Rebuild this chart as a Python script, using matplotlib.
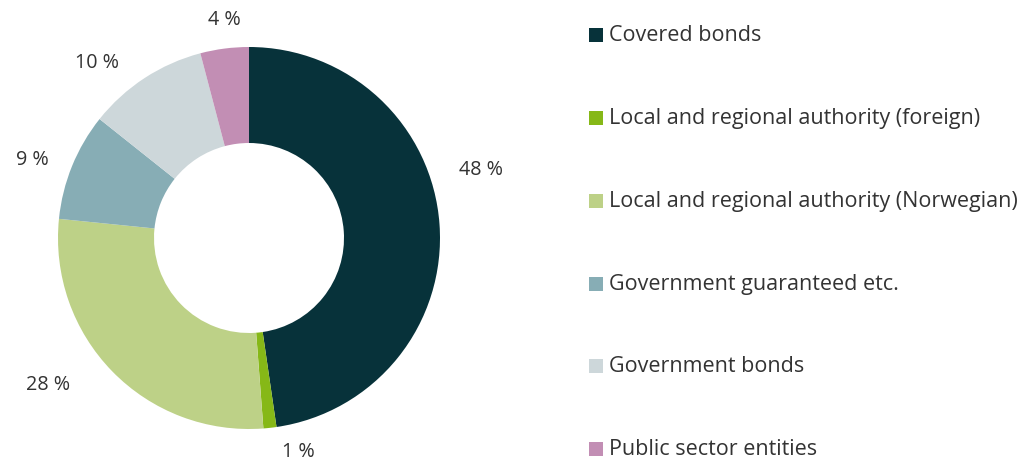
import numpy as np
import matplotlib
matplotlib.use("Agg")
import matplotlib.pyplot as plt
from matplotlib.patches import Rectangle

plt.rcParams['font.family'] = ['Open Sans', 'DejaVu Sans']

categories = [
    "Covered bonds",
    "Local and regional authority (foreign)",
    "Local and regional authority (Norwegian)",
    "Government guaranteed etc.",
    "Government bonds",
    "Public sector entities",
]
values = [47.7, 1.1, 27.8, 9.1, 10.2, 4.1]
label_texts = ["48 %", "1 %", "28 %", "9 %", "10 %", "4 %"]
colors = ["#07323a", "#86b817", "#bdd187", "#87adb5", "#cdd7da", "#c28eb4"]

W, H = 1020, 457
fig = plt.figure(figsize=(W / 100, H / 100), dpi=100)
ax = fig.add_axes([0, 0, 1, 1])

cx, cy, R = 249, H - 238, 191
ax.pie(values, colors=colors, startangle=90, counterclock=False,
       center=(cx, cy), radius=R, wedgeprops=dict(width=96, linewidth=0),
       frame=True)
ax.set_xlim(0, W)
ax.set_ylim(0, H)
ax.axis("off")

# data labels (angle clockwise from top, distance from centre) - Highcharts-like arrangement
label_angles = [73.7, 167.0, 233.8, 289.9, 319.0, 353.5]
label_dist = [242, 220, 249, 230, 232, 219]
for txt, a, d in zip(label_texts, label_angles, label_dist):
    t = np.deg2rad(a)
    x = cx + d * np.sin(t)
    y = cy + d * np.cos(t)
    ax.text(x, y, txt, ha="center", va="center", fontsize=14.2, color="#333333")

# legend
row_y = [35, 118, 201, 284, 366, 449]
for name, col, ry in zip(categories, colors, row_y):
    ax.add_patch(Rectangle((589, H - ry - 7), 14, 14, facecolor=col, edgecolor="none"))
    ax.text(609, H - ry - 6, name, ha="left", va="baseline", fontsize=15.5, color="#333333")

fig.savefig("out.png", dpi=100)
